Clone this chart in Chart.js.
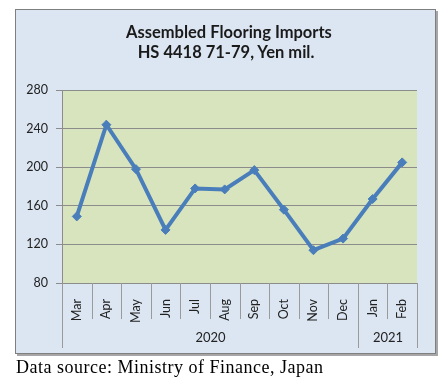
<!DOCTYPE html>
<html>
<head>
<meta charset="utf-8">
<script src="https://cdn.jsdelivr.net/npm/chart.js@4"></script>
<style>
  html, body { margin: 0; padding: 0; background: #fff; }
  body { width: 448px; height: 387px; position: relative; overflow: hidden; }
  #box {
    position: absolute; left: 15px; top: 9px; width: 419px; height: 343px;
    background: #dce6f2; border: 1px solid #7f7f7f;
    box-shadow: 2px 2px 0 #a6a6a6;
  }
  #title {
    position: absolute; left: 126px; width: 200px; top: 22px;
    text-align: center; white-space: nowrap;
    font: bold 16.5px Lato, "Open Sans", sans-serif; line-height: 20px; color: #1a1a1a;
  }
  #chart { position: absolute; left: 0; top: 0; }
  #source {
    position: absolute; left: 16px; top: 357px; white-space: nowrap;
    font: 18px "Liberation Serif", "DejaVu Serif", serif; line-height: 20px;
    letter-spacing: 0.5px; color: #000;
  }
</style>
</head>
<body>
<div id="box"></div>
<canvas id="chart" width="448" height="387"></canvas>
<div id="title">Assembled Flooring Imports<br>HS 4418 71-79, Yen mil.</div>
<div id="source">Data source: Ministry of Finance, Japan</div>
<script>
(function () {
  'use strict';

  // ---------- Data ----------
  const months = ['Mar', 'Apr', 'May', 'Jun', 'Jul', 'Aug', 'Sep', 'Oct', 'Nov', 'Dec', 'Jan', 'Feb'];
  const imports = [149, 244, 198, 135, 178, 177, 197, 156, 114, 126, 167, 205];
  const years = ['2020', '2021'];
  const monthsPerYear = [10, 2];
  const yTicks = [80, 120, 160, 200, 240, 280];

  const FONT = 'Lato, "Open Sans", sans-serif';
  const GRID = '#8c8c8c';

  // plot area fill
  const plotBg = {
    id: 'plotBg',
    beforeDraw(chart) {
      const a = chart.chartArea;
      const ctx = chart.ctx;
      ctx.save();
      ctx.fillStyle = '#d7e4bd';
      ctx.fillRect(a.left, a.top, a.right - a.left, a.bottom - a.top);
      ctx.restore();
    }
  };

  // separators between months + year row under the month labels
  const yearAxis = {
    id: 'yearAxis',
    afterDraw(chart) {
      const a = chart.chartArea;
      const ctx = chart.ctx;
      const step = (a.right - a.left) / months.length;
      const edge = (i) => Math.round(a.left + i * step) + 0.5;

      const groupEdges = [0];
      monthsPerYear.forEach((n) => groupEdges.push(groupEdges[groupEdges.length - 1] + n));

      ctx.save();
      ctx.strokeStyle = '#9a9a9a';
      ctx.lineWidth = 1;
      for (let i = 0; i <= months.length; i++) {
        const long = groupEdges.includes(i);
        ctx.beginPath();
        ctx.moveTo(edge(i), a.bottom);
        ctx.lineTo(edge(i), a.bottom + (long ? 65 : 36));
        ctx.stroke();
      }

      ctx.fillStyle = '#222';
      ctx.font = '13px ' + FONT;
      ctx.textAlign = 'center';
      ctx.textBaseline = 'middle';
      years.forEach((label, k) => {
        const mid = (edge(groupEdges[k]) + edge(groupEdges[k + 1])) / 2;
        ctx.fillText(label, mid, a.bottom + 55);
      });
      ctx.restore();
    }
  };

  new Chart(document.getElementById('chart'), {
    type: 'line',
    data: {
      labels: months,
      datasets: [{
        data: imports,
        borderColor: '#4a7ebb',
        backgroundColor: '#4a7ebb',
        borderWidth: 4,
        tension: 0,
        pointStyle: 'rectRot',
        pointRadius: 4.5,
        pointBorderWidth: 1
      }]
    },
    options: {
      responsive: false,
      animation: false,
      layout: { padding: { left: 0, right: 31, top: 90, bottom: 34 } },
      plugins: {
        legend: { display: false },
        tooltip: { enabled: false },
        title: { display: false }
      },
      scales: {
        x: {
          offset: true,
          grid: { display: false },
          border: { display: true, color: GRID },
          ticks: {
            autoSkip: false,
            minRotation: 90,
            maxRotation: 90,
            padding: 8,
            color: '#222',
            font: { family: FONT, size: 12.5 }
          },
          afterFit(s) { s.height = 70; }
        },
        y: {
          min: yTicks[0],
          max: yTicks[yTicks.length - 1],
          afterBuildTicks(s) { s.ticks = yTicks.map((v) => ({ value: v })); },
          grid: { color: GRID, tickLength: 6 },
          border: { display: true, color: GRID },
          ticks: {
            padding: 8,
            color: '#222',
            font: { family: FONT, size: 12.5 }
          },
          afterFit(s) { s.width = 62; }
        }
      }
    },
    plugins: [plotBg, yearAxis]
  });
})();
</script>
</body>
</html>
